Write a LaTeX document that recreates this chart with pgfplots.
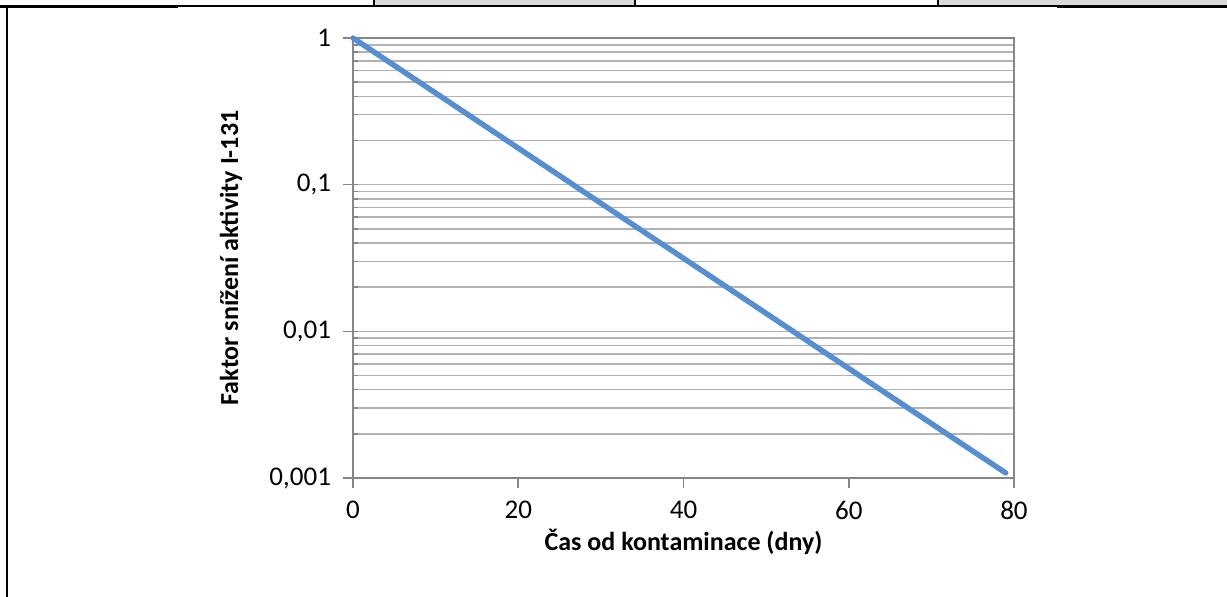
\documentclass[border=0pt]{standalone}
\usepackage{pgfplots}
\pgfplotsset{compat=1.18}
\usepackage{fontspec}
\setmainfont{Carlito}
\definecolor{linblue}{RGB}{85,142,213}
\definecolor{gridgray}{RGB}{178,178,178}
\definecolor{axgray}{RGB}{134,134,134}
\definecolor{cellgray}{RGB}{217,217,217}

\begin{document}
\begin{tikzpicture}
% page frame, coordinates in px of the reference (1 px = 0.5pt, y up from bottom)
\begin{scope}[x=0.5pt,y=0.5pt]
\useasboundingbox (0,0) rectangle (1227,597);
\fill[cellgray] (374,597) rectangle (635,591);
\fill[cellgray] (938,597) rectangle (1227,591);
\draw[black,line width=0.6pt] (374,597) -- (374,591) (635,597) -- (635,591) (938,597) -- (938,591);
\draw[black,line width=0.6pt] (0,591) -- (1227,591);
\draw[black,line width=1.2pt] (0,590.5) -- (178,590.5) (1057,590.5) -- (1227,590.5);
\draw[black,line width=1.1pt] (7,591) -- (7,0);
\coordinate (org) at (353,119);
\end{scope}

\begin{axis}[
  at={(org)}, anchor=south west,
  scale only axis,
  width=330.5pt, height=220pt,
  ymode=log,
  xmin=0, xmax=80,
  ymin=0.001, ymax=1,
  xtick={0,20,40,60,80},
  xticklabels={0,20,40,60,80},
  ytick={0.001,0.01,0.1,1},
  yticklabels={{0,001},{0,01},{0,1},{1}},
  ticklabel style={font=\fontsize{13.5}{15}\selectfont, text=black},
  yticklabel style={xshift=-2.5pt},
  xticklabel style={yshift=-3pt},
  tick align=outside,
  major tick length=5pt,
  minor tick length=-2.5pt,
  xtick style={axgray, line width=0.8pt},
  ytick style={axgray, line width=0.8pt},
  minor y tick num=8,
  ymajorgrids=true, yminorgrids=true,
  major grid style={gridgray, line width=0.8pt},
  minor grid style={gridgray, line width=0.8pt},
  axis line style={axgray, line width=1.1pt},
  xtick pos=bottom, ytick pos=left,
  xlabel={\textbf{Čas od kontaminace (dny)}},
  ylabel={\textbf{Faktor snížení aktivity I-131}},
  label style={font=\fontsize{13}{15}\selectfont},
  xlabel style={at={(0.5,0)}, anchor=center, yshift=-32pt},
  ylabel style={at={(0,0.5)}, anchor=center, yshift=61pt},
  clip=false,
]
\addplot[linblue, line width=2.7pt, line cap=round, mark=none] coordinates {
  (0,1) (10,0.4213) (20,0.1774) (30,0.0747) (40,0.03146)
  (50,0.01325) (60,0.00558) (70,0.00235) (79,0.001083)
};
\end{axis}
\end{tikzpicture}
\end{document}
